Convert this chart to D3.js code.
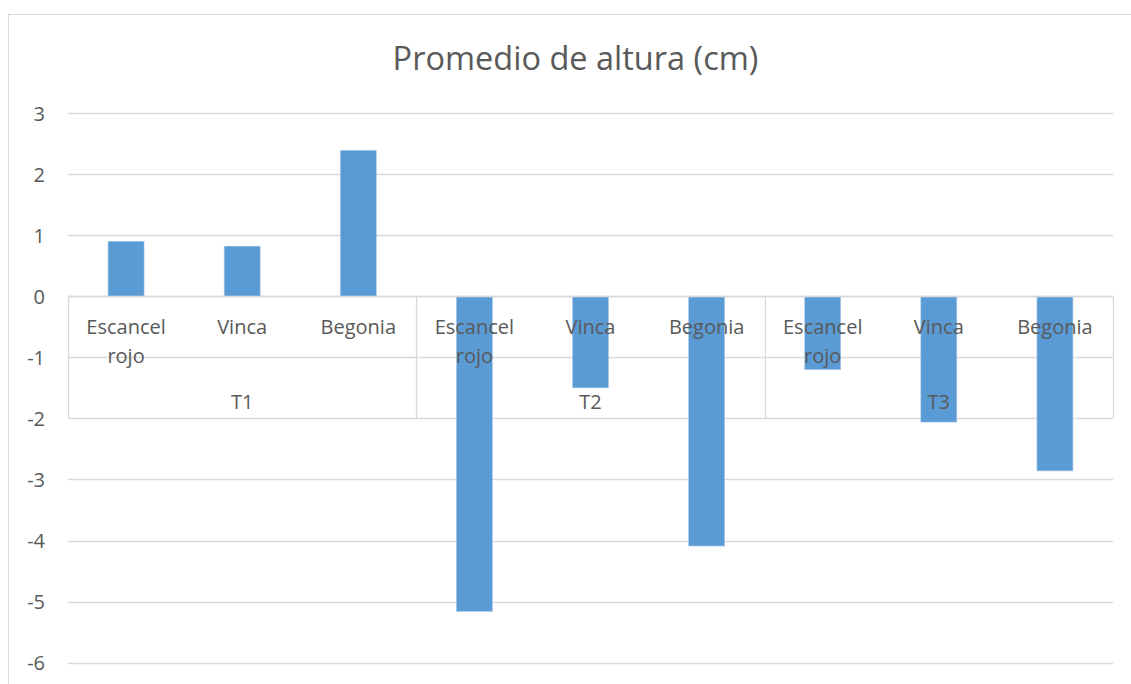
<!DOCTYPE html>
<html>
<head>
<meta charset="utf-8">
<script src="https://cdn.jsdelivr.net/npm/d3@7"></script>
<style>
  html, body { margin: 0; padding: 0; background: #fff; }
  svg { display: block; }
  text { font-family: "Open Sans", sans-serif; fill: #595959; }
</style>
</head>
<body>
<svg id="chart" width="1131" height="684"></svg>
<script>
const title = "Promedio de altura (cm)";
const groups = ["T1", "T2", "T3"];
const subcategories = ["Escancel rojo", "Vinca", "Begonia"];
const valuesT1 = [0.90, 0.82, 2.39];
const valuesT2 = [-5.16, -1.50, -4.09];
const valuesT3 = [-1.20, -2.06, -2.86];
const yTicks = [-6, -5, -4, -3, -2, -1, 0, 1, 2, 3];

(function () {
const seriesByGroup = [valuesT1, valuesT2, valuesT3];
const rows = [];
groups.forEach((g, gi) => {
  subcategories.forEach((s, si) => {
    rows.push({ key: g + "|" + s, group: g, sub: s, value: seriesByGroup[gi][si] });
  });
});

const svg = d3.select("#chart");
const plotLeft = 68, plotRight = 1113, plotTop = 113, plotBottom = 662.7;

// outer chart border
svg.append("rect")
  .attr("x", 8.5).attr("y", 14.5)
  .attr("width", 1140).attr("height", 700)
  .attr("fill", "none").attr("stroke", "#d9d9d9").attr("stroke-width", 1);

const y = d3.scaleLinear().domain([-6, 3]).range([plotBottom, plotTop]);
const x = d3.scaleBand().domain(rows.map(d => d.key)).range([plotLeft, plotRight]).padding(0);
const xg = d3.scaleBand().domain(groups).range([plotLeft, plotRight]).padding(0);

// gridlines
svg.append("g")
  .selectAll("line")
  .data(yTicks)
  .join("line")
  .attr("x1", plotLeft).attr("x2", plotRight)
  .attr("y1", d => Math.round(y(d)) + 0.5).attr("y2", d => Math.round(y(d)) + 0.5)
  .attr("stroke", "#d9d9d9").attr("stroke-width", 1.3);

// y axis labels
const yAxis = d3.axisLeft(y).tickValues(yTicks).tickSize(0).tickPadding(0).tickFormat(d => String(d));
const yg = svg.append("g").attr("transform", "translate(45,0)").call(yAxis);
yg.select(".domain").remove();
yg.selectAll("text").attr("font-size", 20).style("font-family", "'Open Sans', sans-serif").attr("fill", "#595959").attr("dy", "0.35em");

// bars
const barFrac = 0.31;
svg.append("g")
  .selectAll("rect")
  .data(rows)
  .join("rect")
  .attr("x", d => x(d.key) + x.bandwidth() * (1 - barFrac) / 2)
  .attr("width", x.bandwidth() * barFrac)
  .attr("y", d => y(Math.max(0, d.value)))
  .attr("height", d => Math.abs(y(d.value) - y(0)))
  .attr("fill", "#5b9bd5")
  .attr("stroke", "#a9c9ea").attr("stroke-width", 0.6);

// category axis line
const y0 = Math.round(y(0)) + 0.5;
svg.append("line")
  .attr("x1", plotLeft).attr("x2", plotRight).attr("y1", y0).attr("y2", y0)
  .attr("stroke", "#d9d9d9").attr("stroke-width", 1.3);

// group separators
const sepBottom = 418;
const seps = groups.map(g => xg(g)).concat([plotRight]);
svg.append("g")
  .selectAll("line")
  .data(seps)
  .join("line")
  .attr("x1", d => Math.round(d) + 0.5).attr("x2", d => Math.round(d) + 0.5)
  .attr("y1", y0).attr("y2", sepBottom)
  .attr("stroke", "#d9d9d9").attr("stroke-width", 1.3);

// subcategory labels
const subLabels = svg.append("g")
  .selectAll("text")
  .data(rows)
  .join("text")
  .attr("x", d => x(d.key) + x.bandwidth() / 2)
  .attr("y", 334)
  .attr("text-anchor", "middle")
  .attr("font-size", 20);
subLabels.each(function(d) {
  const words = d.sub.split(" ");
  const t = d3.select(this);
  words.forEach((w, i) => {
    t.append("tspan").attr("x", x(d.key) + x.bandwidth() / 2).attr("dy", i === 0 ? 0 : 29).text(w);
  });
});

// group labels
svg.append("g")
  .selectAll("text")
  .data(groups)
  .join("text")
  .attr("x", d => xg(d) + xg.bandwidth() / 2)
  .attr("y", 409)
  .attr("text-anchor", "middle")
  .attr("font-size", 20)
  .text(d => d);

// title
svg.append("text")
  .attr("x", 575.5).attr("y", 70)
  .attr("text-anchor", "middle")
  .attr("font-size", 32.5)
  .text(title);
})();
</script>
</body>
</html>
